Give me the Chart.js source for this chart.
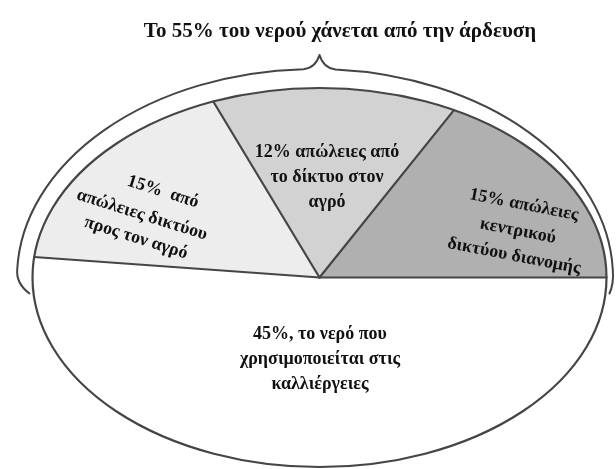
<!DOCTYPE html>
<html>
<head>
<meta charset="utf-8">
<script src="https://cdn.jsdelivr.net/npm/chart.js@4.4.1/dist/chart.umd.min.js"></script>
<style>
    html, body { margin:0; padding:0; background:#ffffff; }
    #waterChart { display:block; }
</style>
</head>
<body>

<canvas id="waterChart" width="616" height="469"></canvas>

<script>

// ==========================
// DATA
// ==========================

const chartTitle = "Το 55% του νερού χάνεται από την άρδευση";

const sliceNames = [
    "Καλλιέργειες",
    "Δίκτυο προς τον αγρό",
    "Δίκτυο στον αγρό",
    "Κεντρικό δίκτυο διανομής"
];

const slicePercents = [45, 15, 12, 15];

const sliceColors = ["#ffffff", "#ededed", "#d2d2d2", "#b0b0b0"];

// text inside each slice, first line carries the value
const sliceText = [
    [slicePercents[0] + "%, το νερό που", "χρησιμοποιείται στις", "καλλιέργειες"],
    [slicePercents[1] + "%  από", "απώλειες δικτύου", "προς τον αγρό"],
    [slicePercents[2] + "% απώλειες από", "το δίκτυο στον", "αγρό"],
    [slicePercents[3] + "% απώλειες", "κεντρικού", "δικτύου διανομής"]
];

// ==========================
// LAYOUT
// ==========================

// the pie is drawn squashed into this ellipse
const ELLIPSE = { x: 319.5, y: 277.5, rx: 287, ry: 189.5 };

// brace around the top half
const BRACE = { x: 315, rx: 298, ry: 208.5 };

const LINE_COLOR = "#454545";
const FONT = "bold 18px 'Liberation Serif', 'DejaVu Serif', serif";

const textSpots = [
    { angle: 0,    lines: [[320, 334], [320, 359], [320, 384]] },
    { angle: 17.5, lines: [[163, 192], [142, 215], [136, 238]] },
    { angle: 0,    lines: [[327, 152], [327, 177], [327, 202]] },
    { angle: 11,   lines: [[524, 205], [518, 231], [514, 256]] }
];

// ==========================
// PLUGINS
// ==========================

// squash the round pie into the ellipse
const squashPie = {
    id: "squashPie",
    beforeDatasetsDraw(chart){
        const arc = chart.getDatasetMeta(0).data[0];
        const ctx = chart.ctx;
        ctx.save();
        ctx.translate(ELLIPSE.x, ELLIPSE.y);
        ctx.scale(ELLIPSE.rx / arc.outerRadius, ELLIPSE.ry / arc.outerRadius);
        ctx.translate(-arc.x, -arc.y);
    },
    afterDatasetsDraw(chart){
        chart.ctx.restore();
    }
};

// outline, slice edges, brace, title and slice texts
const pieDecor = {
    id: "pieDecor",
    afterDraw(chart){

        const ctx = chart.ctx;
        const E = ELLIPSE;
        const arcs = chart.getDatasetMeta(0).data;

        ctx.save();
        ctx.strokeStyle = LINE_COLOR;
        ctx.lineCap = "round";
        ctx.lineJoin = "round";

        // slice edges from the arc start angles
        ctx.lineWidth = 2.2;
        arcs.forEach(arc => {
            const a = arc.startAngle;
            ctx.beginPath();
            ctx.moveTo(E.x, E.y);
            ctx.lineTo(E.x + E.rx * Math.cos(a), E.y + E.ry * Math.sin(a));
            ctx.stroke();
        });

        // outline
        ctx.beginPath();
        ctx.ellipse(E.x, E.y, E.rx, E.ry, 0, 0, Math.PI * 2);
        ctx.stroke();

        // brace over the top half
        const bx = BRACE.x;
        const ox = BRACE.rx;
        const oy = BRACE.ry;
        const side = Math.asin(8 / oy);
        const tipX = E.x;
        const leftSpread = Math.acos((bx - (tipX - 16)) / ox);
        const rightSpread = Math.acos(((tipX + 16) - bx) / ox);

        ctx.lineWidth = 2;
        ctx.beginPath();
        ctx.moveTo(E.x - E.rx - 3, E.y + 16);
        ctx.quadraticCurveTo(bx - ox - 1, E.y + 6, bx - ox * Math.cos(side), E.y - 8);
        ctx.ellipse(bx, E.y, ox, oy, 0, Math.PI + side, Math.PI + leftSpread);
        ctx.quadraticCurveTo(tipX - 4, E.y - oy - 1, tipX, E.y - oy - 14);
        ctx.quadraticCurveTo(tipX + 4, E.y - oy - 1, tipX + 16, E.y - oy * Math.sin(rightSpread));
        ctx.ellipse(bx, E.y, ox, oy, 0, Math.PI * 2 - rightSpread, Math.PI * 2 - side);
        ctx.quadraticCurveTo(bx + ox + 1, E.y + 6, E.x + E.rx + 3, E.y + 16);
        ctx.stroke();

        // title
        ctx.fillStyle = "#111111";
        ctx.font = "bold 21px 'Liberation Serif', 'DejaVu Serif', serif";
        ctx.textAlign = "center";
        ctx.textBaseline = "alphabetic";
        ctx.fillText(chartTitle, 340, 37);

        // slice texts
        ctx.font = FONT;
        ctx.textBaseline = "middle";
        sliceText.forEach((lines, i) => {
            const spot = textSpots[i];
            lines.forEach((line, j) => {
                ctx.save();
                ctx.translate(spot.lines[j][0], spot.lines[j][1]);
                ctx.rotate(spot.angle * Math.PI / 180);
                ctx.fillText(line, 0, 0);
                ctx.restore();
            });
        });

        ctx.restore();
    }
};

// ==========================
// CHART
// ==========================

new Chart(document.getElementById("waterChart"), {

    type: "pie",

    data: {
        labels: sliceNames,
        datasets: [{
            data: slicePercents,
            backgroundColor: sliceColors,
            borderWidth: 0,
            hoverOffset: 0
        }]
    },

    options: {
        responsive: false,
        animation: false,
        rotation: 90,
        events: [],
        plugins: {
            legend: { display: false },
            tooltip: { enabled: false }
        }
    },

    plugins: [squashPie, pieDecor]

});

</script>
</body>
</html>
